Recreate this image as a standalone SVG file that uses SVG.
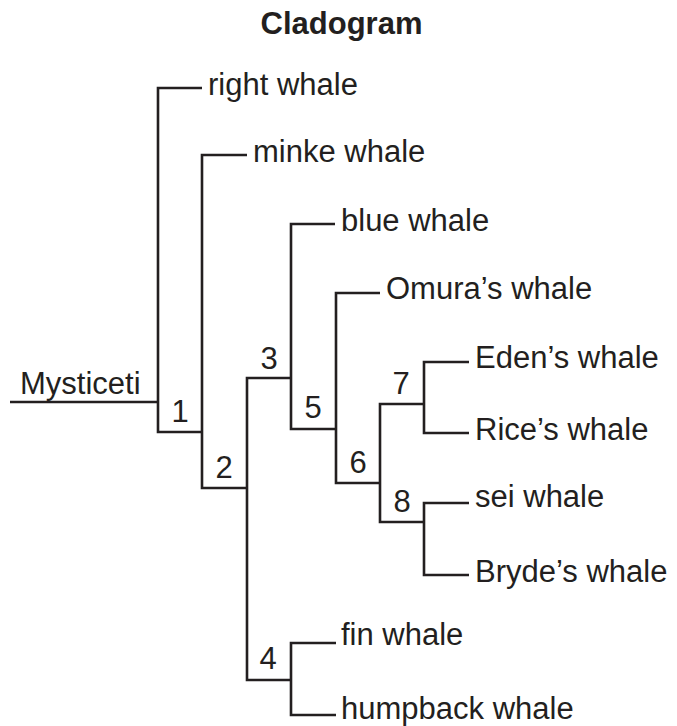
<svg xmlns="http://www.w3.org/2000/svg" width="677" height="726" viewBox="0 0 677 726">
<style>
  .ln { fill: none; stroke: #231f20; stroke-width: 2.6; stroke-linecap: butt; stroke-linejoin: miter; }
  .t { font-family: "Liberation Sans", Arial, sans-serif; font-size: 31px; fill: #231f20; }
  .n { font-family: "Liberation Sans", Arial, sans-serif; font-size: 31px; fill: #231f20; text-anchor: middle; }
  .title { font-family: "Liberation Sans", Arial, sans-serif; font-size: 31px; font-weight: bold; fill: #231f20; text-anchor: middle; }
</style>
<rect width="677" height="726" fill="#ffffff"/>
<text class="title" x="341.5" y="34">Cladogram</text>
<g id="connectors">
  <path class="ln" d="M10,402 H158"/>
  <path class="ln" d="M202,88 H158 V432 H202"/>
  <path class="ln" d="M247,155 H202 V488 H247"/>
  <path class="ln" d="M291,378 H247 V680 H291"/>
  <path class="ln" d="M335,224 H291 V429 H336"/>
  <path class="ln" d="M380,293 H336 V483 H380"/>
  <path class="ln" d="M424,404 H380 V522 H424"/>
  <path class="ln" d="M469,362 H424 V433 H469"/>
  <path class="ln" d="M469,503 H424 V575 H469"/>
  <path class="ln" d="M336,643 H291 V715 H336"/>
</g>
<g id="root"><text class="t" x="20" y="394">Mysticeti</text></g>
<g id="node1"><text class="n" x="180" y="422">1</text></g>
<g id="node2"><text class="n" x="224" y="478">2</text></g>
<g id="node3"><text class="n" x="269" y="369">3</text></g>
<g id="node4"><text class="n" x="268" y="669">4</text></g>
<g id="node5"><text class="n" x="313" y="418">5</text></g>
<g id="node6"><text class="n" x="358" y="473">6</text></g>
<g id="node7"><text class="n" x="401" y="394">7</text></g>
<g id="node8"><text class="n" x="402" y="512">8</text></g>
<g id="right-whale"><text class="t" x="208" y="95">right whale</text></g>
<g id="minke-whale"><text class="t" x="253" y="162">minke whale</text></g>
<g id="blue-whale"><text class="t" x="341" y="231">blue whale</text></g>
<g id="omura-whale"><text class="t" x="386" y="299">Omura’s whale</text></g>
<g id="eden-whale"><text class="t" x="475" y="368">Eden’s whale</text></g>
<g id="rice-whale"><text class="t" x="475" y="440">Rice’s whale</text></g>
<g id="sei-whale"><text class="t" x="475" y="507">sei whale</text></g>
<g id="bryde-whale"><text class="t" x="475" y="582">Bryde’s whale</text></g>
<g id="fin-whale"><text class="t" x="341" y="645">fin whale</text></g>
<g id="humpback-whale"><text class="t" x="341" y="719">humpback whale</text></g>
</svg>
